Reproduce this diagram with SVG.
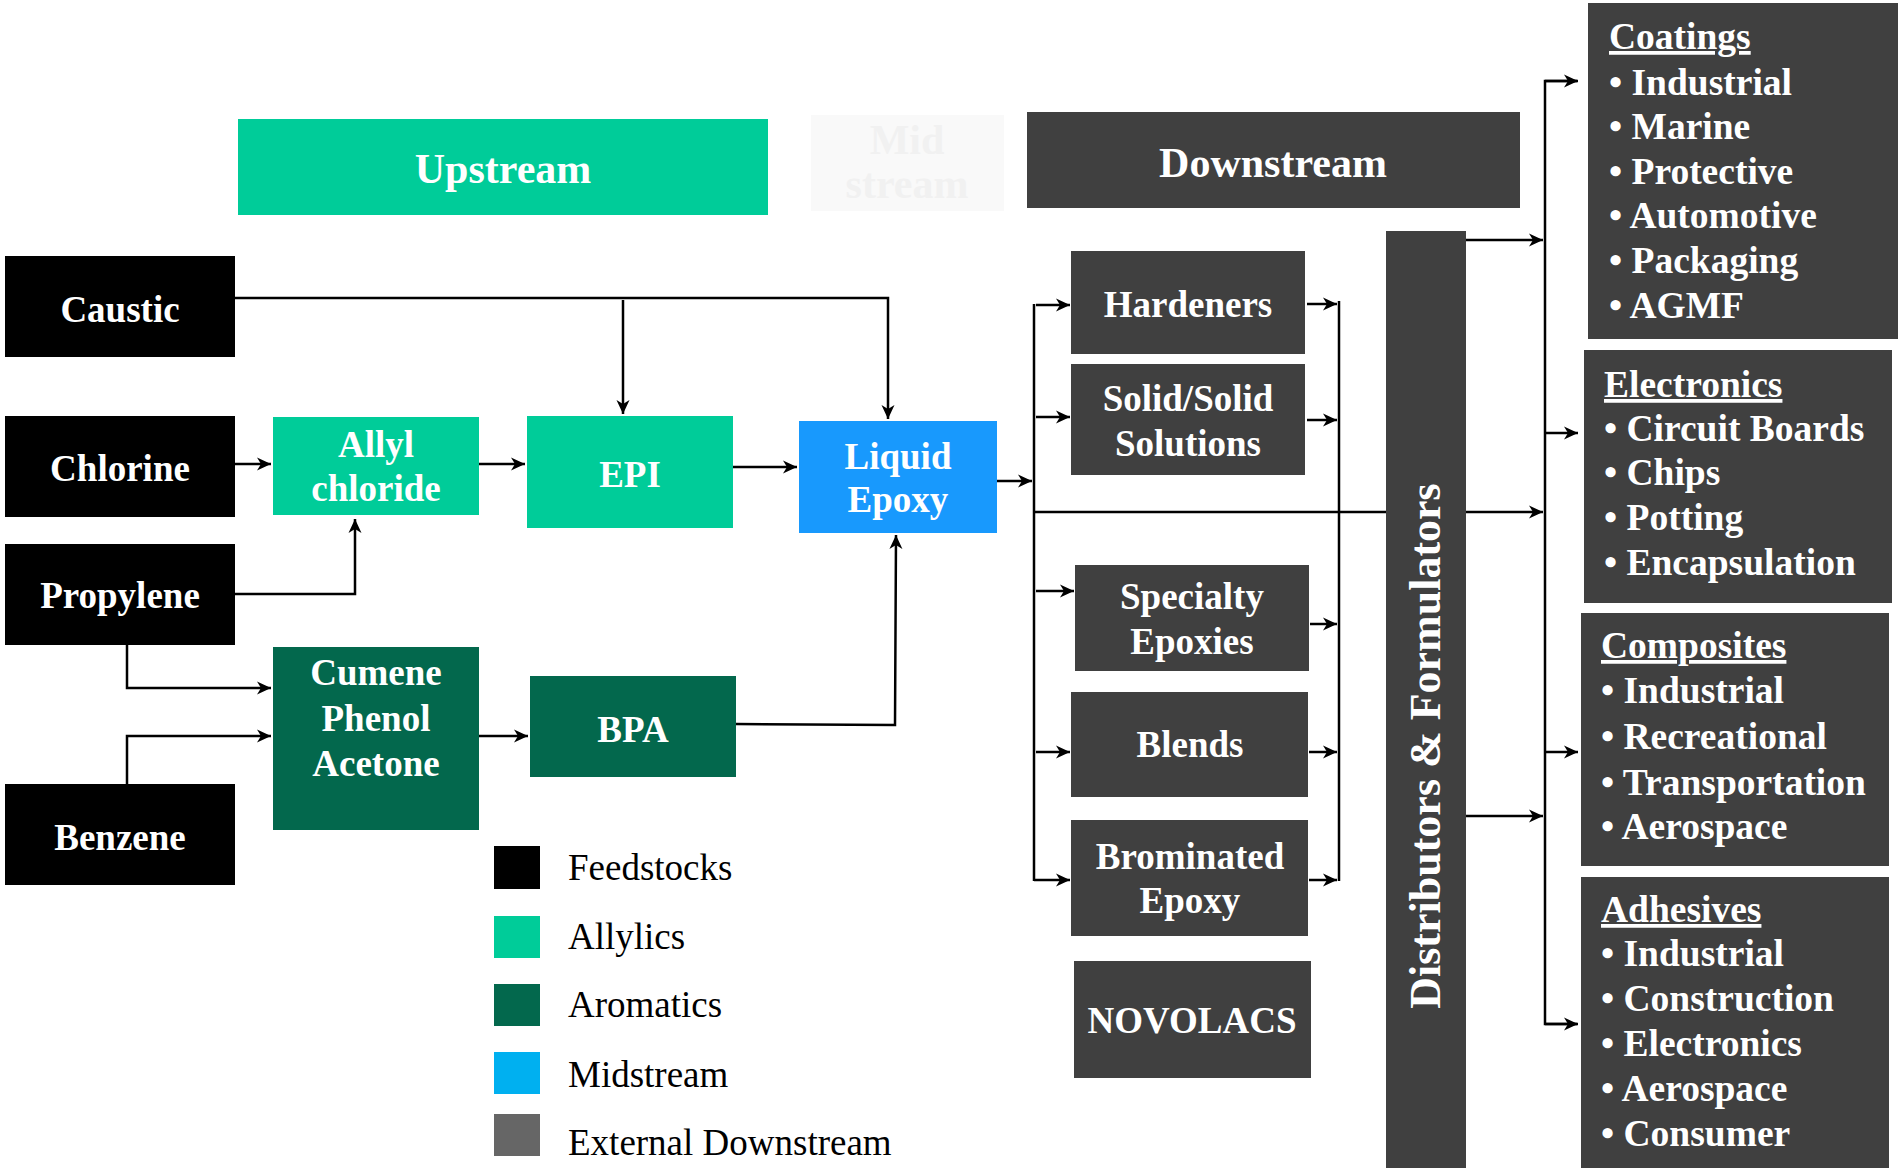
<svg xmlns="http://www.w3.org/2000/svg" width="1902" height="1168" viewBox="0 0 1902 1168">
<style>
.t{font-family:"Liberation Serif","Times New Roman",serif;font-weight:bold;fill:#fff;font-size:37px;text-anchor:middle}
.h{font-size:42px}
.r{font-family:"Liberation Serif","Times New Roman",serif;font-weight:bold;fill:#fff;font-size:37.5px}
.u{text-decoration:underline}
.lg{font-family:"Liberation Serif","Times New Roman",serif;fill:#000;font-size:37px}
.feed{fill:#000}
.ally{fill:#00cc99}
.arom{fill:#03684d}
.mid{fill:#1899fd}
.down{fill:#404040}
.ln{fill:none;stroke:#000;stroke-width:2.5}
</style>
<defs>
<marker id="ah" markerUnits="userSpaceOnUse" markerWidth="16" markerHeight="14" refX="14" refY="7" orient="auto">
<path d="M0,0.5 L14,7 L0,13.5 L4,7 Z" fill="#000"/>
</marker>
</defs>
<rect width="1902" height="1168" fill="#fff"/>

<g id="connectors">
<path class="ln" d="M235,298 H888 V419" marker-end="url(#ah)"/>
<path class="ln" d="M623,300 V414" marker-end="url(#ah)"/>
<path class="ln" d="M235,464 H271" marker-end="url(#ah)"/>
<path class="ln" d="M479,464 H525" marker-end="url(#ah)"/>
<path class="ln" d="M733,467 H797" marker-end="url(#ah)"/>
<path class="ln" d="M235,594 H355 V519" marker-end="url(#ah)"/>
<path class="ln" d="M127,645 V688 H271" marker-end="url(#ah)"/>
<path class="ln" d="M127,784 V736 H271" marker-end="url(#ah)"/>
<path class="ln" d="M479,736 H528" marker-end="url(#ah)"/>
<path class="ln" d="M736,724 L895,725 L896,535" marker-end="url(#ah)"/>
<path class="ln" d="M997,481 H1032" marker-end="url(#ah)"/>
<path class="ln" d="M1034,304 V881"/>
<path class="ln" d="M1036,305 H1070" marker-end="url(#ah)"/>
<path class="ln" d="M1036,417 H1070" marker-end="url(#ah)"/>
<path class="ln" d="M1036,591 H1074" marker-end="url(#ah)"/>
<path class="ln" d="M1036,752 H1070" marker-end="url(#ah)"/>
<path class="ln" d="M1034,880 H1070" marker-end="url(#ah)"/>
<path class="ln" d="M1034,512 H1543" marker-end="url(#ah)"/>
<path class="ln" d="M1339,301 V881"/>
<path class="ln" d="M1307,304 H1337" marker-end="url(#ah)"/>
<path class="ln" d="M1307,420 H1337" marker-end="url(#ah)"/>
<path class="ln" d="M1310,624 H1337" marker-end="url(#ah)"/>
<path class="ln" d="M1309,752 H1337" marker-end="url(#ah)"/>
<path class="ln" d="M1309,880 H1337" marker-end="url(#ah)"/>
<path class="ln" d="M1466,240 H1543" marker-end="url(#ah)"/>
<path class="ln" d="M1466,816 H1543" marker-end="url(#ah)"/>
<path class="ln" d="M1577,81 H1545 V1024 H1577" />
<path class="ln" d="M1545,81 H1578" marker-end="url(#ah)"/>
<path class="ln" d="M1545,433 H1578" marker-end="url(#ah)"/>
<path class="ln" d="M1545,752 H1578" marker-end="url(#ah)"/>
<path class="ln" d="M1545,1024 H1578" marker-end="url(#ah)"/>
</g>

<g id="upstream"><rect class="ally" x="238" y="119" width="530" height="96"/><text class="t h" x="503" y="183">Upstream</text></g>
<g id="midstream"><rect x="811" y="115" width="193" height="96" fill="#f9f9f9"/><text class="t h" x="907" y="154" style="fill:#f1f1f1">Mid</text><text class="t h" x="907" y="198" style="fill:#f1f1f1">stream</text></g>
<g id="downstream"><rect class="down" x="1027" y="112" width="493" height="96"/><text class="t h" x="1273" y="177">Downstream</text></g>

<g id="caustic"><rect class="feed" x="5" y="256" width="230" height="101"/><text class="t" x="120" y="322">Caustic</text></g>
<g id="chlorine"><rect class="feed" x="5" y="416" width="230" height="101"/><text class="t" x="120" y="481">Chlorine</text></g>
<g id="propylene"><rect class="feed" x="5" y="544" width="230" height="101"/><text class="t" x="120" y="608">Propylene</text></g>
<g id="benzene"><rect class="feed" x="5" y="784" width="230" height="101"/><text class="t" x="120" y="850">Benzene</text></g>

<g id="allyl"><rect class="ally" x="273" y="417" width="206" height="98"/><text class="t" x="376" y="457">Allyl</text><text class="t" x="376" y="501">chloride</text></g>
<g id="epi"><rect class="ally" x="527" y="416" width="206" height="112"/><text class="t" x="630" y="487">EPI</text></g>
<g id="liquid"><rect class="mid" x="799" y="421" width="198" height="112"/><text class="t" x="898" y="469">Liquid</text><text class="t" x="898" y="512">Epoxy</text></g>
<g id="cumene"><rect class="arom" x="273" y="647" width="206" height="183"/><text class="t" x="376" y="685">Cumene</text><text class="t" x="376" y="731">Phenol</text><text class="t" x="376" y="776">Acetone</text></g>
<g id="bpa"><rect class="arom" x="530" y="676" width="206" height="101"/><text class="t" x="633" y="742">BPA</text></g>

<g id="legend">
<rect x="494" y="846" width="46" height="43" fill="#000"/><text class="lg" x="568" y="880">Feedstocks</text>
<rect x="494" y="916" width="46" height="42" fill="#00cc99"/><text class="lg" x="568" y="949">Allylics</text>
<rect x="494" y="984" width="46" height="42" fill="#03684d"/><text class="lg" x="568" y="1017">Aromatics</text>
<rect x="494" y="1052" width="46" height="42" fill="#00b0f0"/><text class="lg" x="568" y="1087">Midstream</text>
<rect x="494" y="1114" width="46" height="42" fill="#666"/><text class="lg" x="568" y="1155">External Downstream</text>
</g>

<g id="hardeners"><rect class="down" x="1071" y="251" width="234" height="103"/><text class="t" x="1188" y="317">Hardeners</text></g>
<g id="solid"><rect class="down" x="1071" y="364" width="234" height="111"/><text class="t" x="1188" y="411">Solid/Solid</text><text class="t" x="1188" y="456">Solutions</text></g>
<g id="specialty"><rect class="down" x="1075" y="565" width="234" height="106"/><text class="t" x="1192" y="609">Specialty</text><text class="t" x="1192" y="654">Epoxies</text></g>
<g id="blends"><rect class="down" x="1071" y="692" width="237" height="105"/><text class="t" x="1190" y="757">Blends</text></g>
<g id="brominated"><rect class="down" x="1071" y="820" width="237" height="116"/><text class="t" x="1190" y="869">Brominated</text><text class="t" x="1190" y="913">Epoxy</text></g>
<g id="novolacs"><rect class="down" x="1074" y="961" width="237" height="117"/><text class="t" x="1192" y="1033">NOVOLACS</text></g>

<g id="distributors"><rect class="down" x="1386" y="231" width="80" height="940"/><text class="t" style="font-size:44px" transform="translate(1440,746) rotate(-90)">Distributors &amp; Formulators</text></g>

<g id="coatings"><rect class="down" x="1588" y="3" width="310" height="336"/>
<text class="r u" x="1609" y="49">Coatings</text>
<text class="r" x="1609" y="95">• Industrial</text>
<text class="r" x="1609" y="139">• Marine</text>
<text class="r" x="1609" y="184">• Protective</text>
<text class="r" x="1609" y="228">• Automotive</text>
<text class="r" x="1609" y="273">• Packaging</text>
<text class="r" x="1609" y="318">• AGMF</text></g>
<g id="electronics"><rect class="down" x="1584" y="350" width="308" height="253"/>
<text class="r u" x="1604" y="397">Electronics</text>
<text class="r" x="1604" y="441">• Circuit Boards</text>
<text class="r" x="1604" y="485">• Chips</text>
<text class="r" x="1604" y="530">• Potting</text>
<text class="r" x="1604" y="575">• Encapsulation</text></g>
<g id="composites"><rect class="down" x="1581" y="613" width="308" height="253"/>
<text class="r u" x="1601" y="658">Composites</text>
<text class="r" x="1601" y="703">• Industrial</text>
<text class="r" x="1601" y="749">• Recreational</text>
<text class="r" x="1601" y="795">• Transportation</text>
<text class="r" x="1601" y="839">• Aerospace</text></g>
<g id="adhesives"><rect class="down" x="1581" y="877" width="308" height="295"/>
<text class="r u" x="1601" y="922">Adhesives</text>
<text class="r" x="1601" y="966">• Industrial</text>
<text class="r" x="1601" y="1011">• Construction</text>
<text class="r" x="1601" y="1056">• Electronics</text>
<text class="r" x="1601" y="1101">• Aerospace</text>
<text class="r" x="1601" y="1146">• Consumer</text></g>
</svg>
